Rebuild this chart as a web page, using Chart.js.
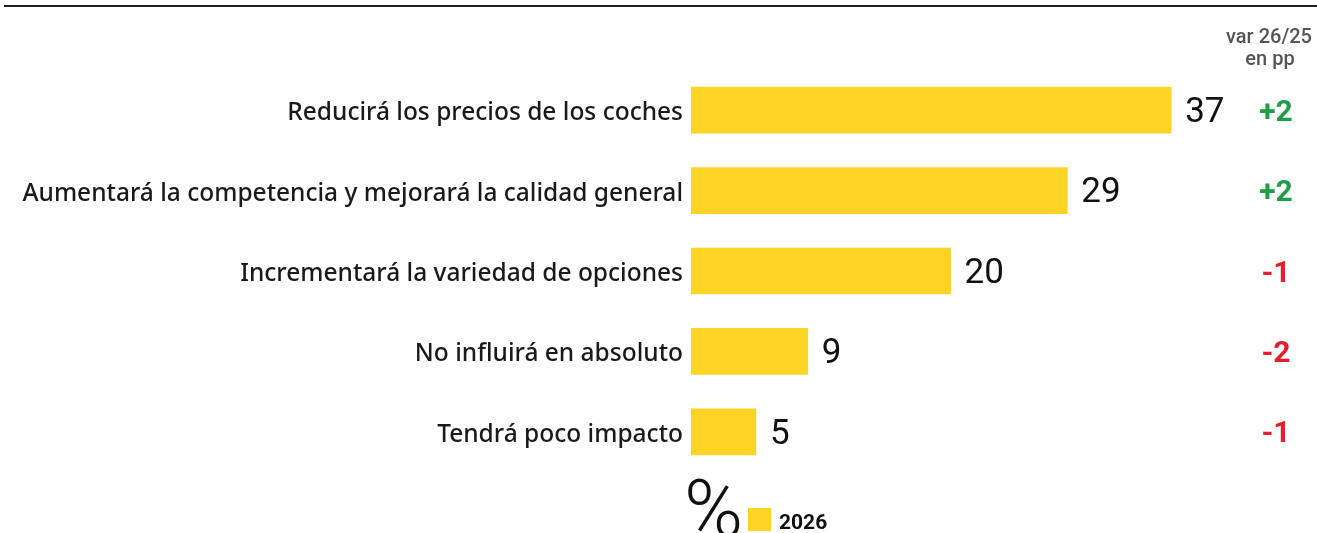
<!DOCTYPE html>
<html>
<head>
<meta charset="utf-8">
<script src="https://cdn.jsdelivr.net/npm/chart.js@4.4.1/dist/chart.umd.min.js"></script>
<style>
  html,body{margin:0;padding:0;background:#fff;}
  #wrap{position:relative;width:1317px;height:533px;}
</style>
</head>
<body>
<div id="wrap"><canvas id="chart"></canvas></div>
<script>
// data
const categories = [
  'Reducirá los precios de los coches',
  'Aumentará la competencia y mejorará la calidad general',
  'Incrementará la variedad de opciones',
  'No influirá en absoluto',
  'Tendrá poco impacto'
];
const values2026 = [37, 29, 20, 9, 5];
const varPP = [2, 2, -1, -2, -1];
const seriesLabel = '2026';
const varHeader = ['var 26/25', 'en pp'];

const YELLOW = '#fdd324';
const GREEN = '#1f9e4a';
const RED = '#e51e2a';

const overlay = {
  id: 'overlay',
  afterDatasetsDraw(chart){
    const {ctx} = chart;
    ctx.save();
    // top rule
    ctx.strokeStyle = '#222';
    ctx.lineWidth = 2;
    ctx.beginPath(); ctx.moveTo(4, 6); ctx.lineTo(1317, 6); ctx.stroke();

    // header
    ctx.fillStyle = '#555';
    ctx.font = '500 20px Roboto';
    ctx.textAlign = 'center';
    ctx.textBaseline = 'middle';
    ctx.fillText(varHeader[0], 1269, 38);
    ctx.fillText(varHeader[1], 1270, 60);

    const meta = chart.getDatasetMeta(0);
    meta.data.forEach((bar, i) => {
      // value label
      ctx.fillStyle = '#111';
      ctx.font = '400 35px Roboto';
      ctx.textAlign = 'left';
      ctx.textBaseline = 'middle';
      ctx.fillText(String(values2026[i]), bar.x + 14, bar.y + 3);
      // variation
      const v = varPP[i];
      ctx.fillStyle = v >= 0 ? GREEN : RED;
      ctx.font = '700 30px Roboto';
      ctx.textAlign = 'center';
      ctx.fillText((v > 0 ? '+' : '') + v, 1276, bar.y + 3);
    });

    // legend
    ctx.fillStyle = '#111';
    ctx.font = '300 80px Roboto';
    ctx.textAlign = 'left';
    ctx.textBaseline = 'alphabetic';
    ctx.fillText('%', 684, 536);
    ctx.fillStyle = YELLOW;
    ctx.fillRect(748, 508, 23, 23);
    ctx.fillStyle = '#111';
    ctx.font = '700 21px Roboto';
    ctx.fillText(seriesLabel, 779, 529);
    ctx.restore();
  }
};

new Chart(document.getElementById('chart'), {
  type: 'bar',
  data: {
    labels: categories,
    datasets: [{
      label: seriesLabel,
      data: values2026,
      backgroundColor: YELLOW,
      barThickness: 46,
      borderWidth: 0
    }]
  },
  options: {
    indexAxis: 'y',
    responsive: true,
    maintainAspectRatio: false,
    animation: false,
    layout: { padding: { top: 70, bottom: 61, left: 0, right: 42 } },
    plugins: { legend: { display: false }, tooltip: { enabled: false } },
    scales: {
      x: { display: false, min: 0, max: 45 },
      y: {
        grid: { display: false, drawTicks: false },
        border: { display: false },
        afterFit(s){ s.width = 691; },
        ticks: {
          padding: 8,
          labelOffset: 3,
          color: '#1a1a1a',
          font: { family: 'Noto Sans', size: 24.5, weight: '500' }
        }
      }
    }
  },
  plugins: [overlay]
});
</script>
</body>
</html>
